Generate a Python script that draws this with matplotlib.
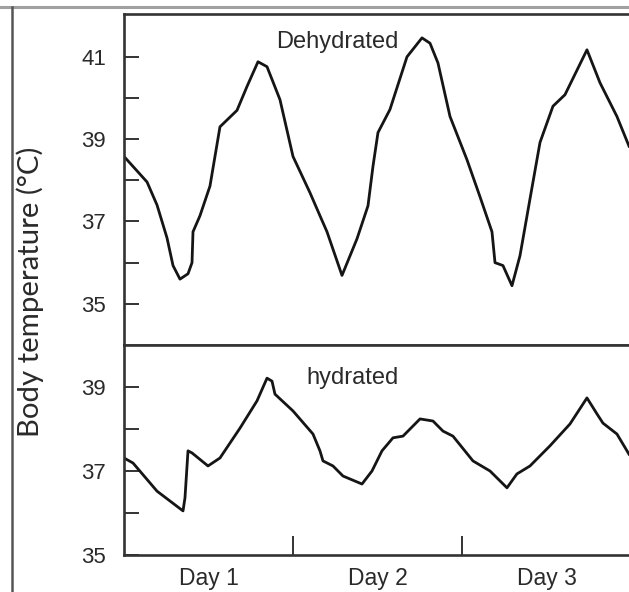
import matplotlib
matplotlib.use("Agg")
import matplotlib.pyplot as plt
from matplotlib.lines import Line2D

plt.rcParams['font.family'] = ['Liberation Sans', 'DejaVu Sans']

# Data (hours since start, body temperature in °C)
dehyd_hours = [0, 3.27, 4.69, 6.11, 6.96, 7.95, 9.09, 9.66, 9.80, 10.79, 12.21, 13.63,
               16.05, 17.47, 19.03, 20.31, 22.15, 24.0, 26.41, 27.83, 28.83, 30.96,
               33.09, 34.65, 35.36, 36.07, 37.77, 40.19, 42.32, 43.46, 44.59, 46.30,
               48.71, 50.56, 52.26, 52.69, 53.82, 55.10, 56.24, 57.66, 59.08, 60.92,
               62.63, 65.75, 67.60, 70.01, 71.72]
dehyd_temp = [38.58, 37.96, 37.4, 36.6, 35.93, 35.6, 35.73, 36.0, 36.75, 37.14, 37.86, 39.3,
              39.7, 40.28, 40.88, 40.76, 39.96, 38.58, 37.7, 37.14, 36.75, 35.69,
              36.58, 37.38, 38.34, 39.16, 39.72, 41.0, 41.46, 41.33, 40.85, 39.55,
              38.5, 37.6, 36.75, 36.0, 35.93, 35.44, 36.17, 37.55, 38.92, 39.8,
              40.08, 41.17, 40.37, 39.55, 38.83]

hyd_hours = [0, 1.28, 4.69, 8.38, 8.66, 9.09, 9.66, 11.93, 13.63, 16.47, 18.89, 20.31,
             21.02, 21.44, 24.0, 26.84, 27.83, 28.26, 29.68, 31.1, 33.8, 35.22, 36.64,
             38.2, 39.62, 42.04, 43.88, 45.3, 46.72, 49.56, 51.98, 54.39, 55.8, 57.66,
             60.5, 63.34, 65.75, 67.17, 68.02, 70.01, 71.72]
hyd_temp = [37.31, 37.19, 36.52, 36.05, 36.36, 37.48, 37.43, 37.12, 37.31, 38.02, 38.67, 39.21,
            39.14, 38.83, 38.43, 37.88, 37.48, 37.24, 37.12, 36.88, 36.69, 37.0, 37.48,
            37.79, 37.83, 38.24, 38.19, 37.95, 37.83, 37.24, 37.0, 36.6, 36.93, 37.12,
            37.6, 38.12, 38.74, 38.36, 38.14, 37.88, 37.4]

day_ticks = [24, 48]
day_label_pos = [12, 36, 60]
day_labels = ["Day 1", "Day 2", "Day 3"]

upper_major = [35, 37, 39, 41]
upper_minor = [36, 38, 40]
lower_major = [35, 37, 39]
lower_minor = [36, 38]

W, H = 629, 592
fig = plt.figure(figsize=(W / 100, H / 100), dpi=100)

left = 124 / W
ax1 = fig.add_axes([left, 1 - 345 / H, 1 - left, (345 - 14) / H])
ax2 = fig.add_axes([left, 1 - 555 / H, 1 - left, (555 - 345) / H])

txt_color = '#2a2a2a'
spine_color = '#333333'
FS = 16

for ax in (ax1, ax2):
    ax.set_xlim(0, 71.72)
    ax.spines['right'].set_visible(False)
    for s in ('left', 'top', 'bottom'):
        ax.spines[s].set_linewidth(1.9)
        ax.spines[s].set_color(spine_color)
    ax.tick_params(axis='y', which='both', direction='in', length=11, width=1.4,
                   color=spine_color, labelsize=FS, labelcolor=txt_color, pad=13)

ax1.plot(dehyd_hours, dehyd_temp, color='#151515', lw=2.0, solid_joinstyle='round')
ax1.set_ylim(34, 42.04)
ax1.set_yticks(upper_major)
ax1.set_yticks(upper_minor, minor=True)
ax1.set_xticks([])
ax1.text(30.25, 41.36, "Dehydrated", ha='center', va='center', fontsize=17, color=txt_color)

ax2.plot(hyd_hours, hyd_temp, color='#151515', lw=2.0, solid_joinstyle='round')
ax2.set_ylim(35, 40)
ax2.set_yticks(lower_major)
ax2.set_yticks(lower_minor, minor=True)
ax2.set_xticks(day_ticks)
ax2.set_xticklabels([])
ax2.set_xticks(day_label_pos, minor=True)
ax2.set_xticklabels(day_labels, minor=True)
ax2.tick_params(axis='x', which='major', direction='in', length=14, width=1.4, color=spine_color)
ax2.tick_params(axis='x', which='minor', length=0, labelsize=16.5, labelcolor=txt_color, pad=9)
ax2.text(32.4, 39.21, "hydrated", ha='center', va='center', fontsize=17, color=txt_color)

ylab = fig.text(30 / W, 1 - 292 / H, "Body temperature (°C)", rotation=90, ha='center',
                va='center', fontsize=18, color=txt_color, family=['Lato', 'DejaVu Sans'])
# fit label length to ~290 px
fig.canvas.draw()
ext = ylab.get_window_extent(fig.canvas.get_renderer())
ylab.set_fontsize(18 * 290 / ext.height)

# screenshot frame lines
fig.add_artist(Line2D([0, 1], [1 - 7 / H, 1 - 7 / H], color='#a0a0a0', lw=2.2, transform=fig.transFigure))
fig.add_artist(Line2D([12 / W, 12 / W], [0, 1 - 7 / H], color='#555555', lw=1.8, transform=fig.transFigure))

fig.savefig("out.png", dpi=100)
